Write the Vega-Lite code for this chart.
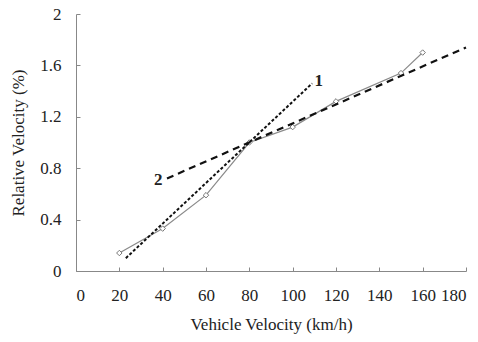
{
  "$schema": "https://vega.github.io/schema/vega-lite/v6.json",
  "width": 390,
  "height": 257,
  "autosize": {"type": "none"},
  "padding": {"left": 76, "top": 14, "right": 12, "bottom": 71},
  "background": "white",
  "config": {
    "view": {"stroke": null},
    "font": "Liberation Serif",
    "axis": {
      "grid": false,
      "domainColor": "#888888",
      "tickColor": "#888888",
      "tickSize": -4,
      "labelFont": "Liberation Serif",
      "labelFontSize": 17,
      "labelColor": "#222222",
      "titleFont": "Liberation Serif",
      "titleFontSize": 17,
      "titleFontWeight": "normal",
      "titleColor": "#222222"
    }
  },
  "datasets": {
    "measured": [
      {"x": 20, "y": 0.14},
      {"x": 40, "y": 0.33},
      {"x": 60, "y": 0.59},
      {"x": 80, "y": 1.0},
      {"x": 100, "y": 1.12},
      {"x": 120, "y": 1.32},
      {"x": 150, "y": 1.54},
      {"x": 160, "y": 1.7}
    ],
    "fit1": [
      {"x": 23, "y": 0.1},
      {"x": 109, "y": 1.46}
    ],
    "fit2": [
      {"x": 42, "y": 0.72},
      {"x": 180, "y": 1.74}
    ],
    "labels": [
      {"x": 112, "y": 1.48, "t": "1"},
      {"x": 38, "y": 0.71, "t": "2"}
    ]
  },
  "layer": [
    {
      "data": {"name": "measured"},
      "mark": {"type": "line", "color": "#8a8a8a", "strokeWidth": 1.2, "point": {"shape": "diamond", "filled": true, "fill": "white", "stroke": "#777777", "strokeWidth": 1, "size": 30}},
      "encoding": {
        "x": {"field": "x", "type": "quantitative", "scale": {"domain": [0, 180]}, "axis": {"values": [0,20,40,60,80,100,120,140,160,180], "title": "Vehicle Velocity (km/h)", "labelPadding": 20, "titlePadding": 13}},
        "y": {"field": "y", "type": "quantitative", "scale": {"domain": [0, 2]}, "axis": {"values": [0,0.4,0.8,1.2,1.6,2], "format": "~g", "title": "Relative Velocity (%)", "labelPadding": 19, "titlePadding": 12}}
      }
    },
    {
      "data": {"name": "fit1"},
      "mark": {"type": "line", "color": "#111111", "strokeWidth": 2, "strokeDash": [3, 2]},
      "encoding": {
        "x": {"field": "x", "type": "quantitative"},
        "y": {"field": "y", "type": "quantitative"}
      }
    },
    {
      "data": {"name": "fit2"},
      "mark": {"type": "line", "color": "#111111", "strokeWidth": 2.2, "strokeDash": [7, 5]},
      "encoding": {
        "x": {"field": "x", "type": "quantitative"},
        "y": {"field": "y", "type": "quantitative"}
      }
    },
    {
      "data": {"name": "labels"},
      "mark": {"type": "text", "fontSize": 17, "fontWeight": "bold", "color": "#222222", "align": "center", "baseline": "middle"},
      "encoding": {
        "x": {"field": "x", "type": "quantitative"},
        "y": {"field": "y", "type": "quantitative"},
        "text": {"field": "t"}
      }
    }
  ]
}
